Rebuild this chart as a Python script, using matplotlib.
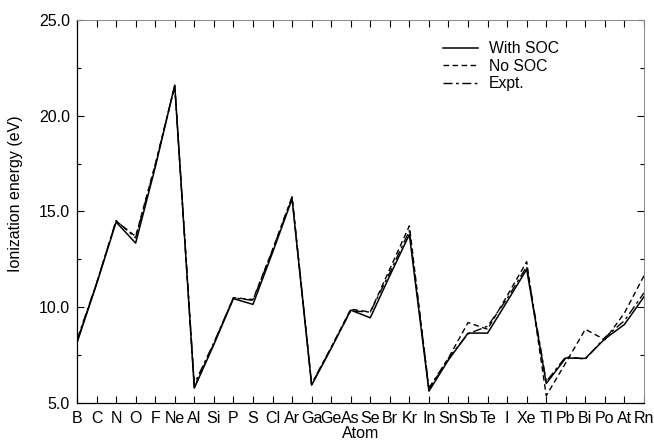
import matplotlib.pyplot as plt
import numpy as np

plt.rcParams['font.family'] = ['Liberation Sans', 'DejaVu Sans']

atoms = ['B', 'C', 'N', 'O', 'F', 'Ne', 'Al', 'Si', 'P', 'S', 'Cl', 'Ar',
         'Ga', 'Ge', 'As', 'Se', 'Br', 'Kr', 'In', 'Sn', 'Sb', 'Te', 'I', 'Xe',
         'Tl', 'Pb', 'Bi', 'Po', 'At', 'Rn']

with_soc = [8.15, 11.2, 14.45, 13.35, 17.3, 21.6, 5.78, 8.05, 10.45, 10.15, 12.85, 15.65,
            5.93, 7.85, 9.85, 9.45, 11.65, 13.8, 5.62, 7.25, 8.65, 8.65, 10.3, 11.98,
            6.02, 7.35, 7.33, 8.35, 9.1, 10.55]
no_soc = [8.2, 11.25, 14.5, 13.7, 17.45, 21.55, 5.82, 8.1, 10.5, 10.4, 13.0, 15.75,
          5.98, 7.9, 9.9, 9.75, 12.0, 14.25, 5.7, 7.35, 9.2, 8.85, 10.6, 12.38,
          5.38, 7.1, 8.85, 8.3, 9.7, 11.65]
expt = [8.3, 11.26, 14.53, 13.62, 17.42, 21.56, 5.99, 8.15, 10.49, 10.36, 12.97, 15.76,
        6.0, 7.9, 9.81, 9.75, 11.81, 14.0, 5.79, 7.34, 8.61, 9.01, 10.45, 12.13,
        6.11, 7.42, 7.29, 8.42, 9.3, 10.75]

x = np.arange(len(atoms))

fig = plt.figure(figsize=(6.54, 4.41), dpi=100)
ax = fig.add_axes([77 / 654, 38 / 441, 567 / 654, 383 / 441])

ax.plot(x, with_soc, color='black', lw=1.1, linestyle='-', label='With SOC')
ax.plot(x, no_soc, color='black', lw=1.0, linestyle=(0, (4, 2.5)), label='No SOC')
ax.plot(x, expt, color='black', lw=1.0, linestyle=(0, (6.5, 2.5, 2, 2.5)), label='Expt.')

ax.set_xlim(0, 29)
ax.set_ylim(5, 25)
ax.set_xticks(x)
ax.set_xticklabels(atoms)
ax.set_yticks([5, 10, 15, 20, 25])
ax.set_yticklabels(['5.0', '10.0', '15.0', '20.0', '25.0'])
ax.set_yticks([7.5, 12.5, 17.5, 22.5], minor=True)
ax.tick_params(axis='both', which='both', direction='in', top=True, right=True,
               labelsize=11.5, width=0.8)
ax.tick_params(axis='both', which='major', length=5)
ax.tick_params(axis='y', which='minor', length=3)
ax.tick_params(axis='x', pad=6)
ax.tick_params(axis='y', pad=5)
for s in ['top', 'right']:
    ax.spines[s].set_color('#888888')
    ax.spines[s].set_linewidth(0.7)
for s in ['left', 'bottom']:
    ax.spines[s].set_linewidth(0.9)

ax.set_xlabel('Atom', fontsize=11.5, labelpad=0)
ax.set_ylabel('Ionization energy (eV)', fontsize=11.5)
ax.yaxis.set_label_coords(-0.095, 0.546)

ax.legend(loc='upper left', bbox_to_anchor=(0.6455, 0.944), frameon=False, fontsize=11.3,
          borderaxespad=0, borderpad=0,
          handlelength=2.2, handletextpad=0.7, labelspacing=0.15)

fig.savefig('out.png', dpi=100)
